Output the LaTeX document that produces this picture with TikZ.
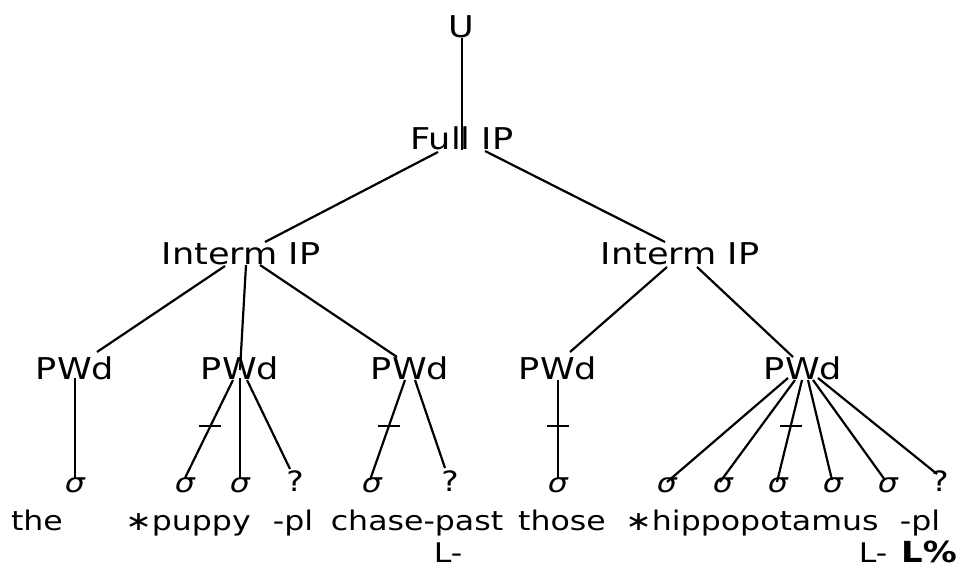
\documentclass[tikz,border=0pt]{standalone}
\usepackage{fontspec}
\setmainfont{DejaVu Sans}[FakeStretch=1.17]
\usetikzlibrary{calc}
\begin{document}
\begin{tikzpicture}[x=1pt,y=-1pt,
  cat/.style={inner sep=0pt, anchor=base, font=\fontsize{30}{36}\selectfont},
  syl/.style={inner sep=0pt, anchor=base, font=\fontsize{27}{32}\selectfont\itshape},
  unk/.style={inner sep=0pt, anchor=base, font=\fontsize{28}{32}\selectfont},
  word/.style={inner sep=0pt, anchor=base, font=\fontsize{27}{32}\selectfont},
  tone/.style={inner sep=0pt, anchor=base, font=\fontsize{29}{34}\selectfont\bfseries},
  branch/.style={line width=2.2pt},
  stem/.style={line width=1.5pt},
]
\useasboundingbox (0,0) rectangle (967,569);

% prosodic categories
\node[cat] (u)   at (461,38)  {U};
\node[cat] (fip) at (462,150) {Full IP};
\node[cat] (il)  at (241,265) {Interm IP};
\node[cat] (ir)  at (680,265) {Interm IP};
\node[cat] (pw1) at (75,380)  {PWd};
\node[cat] (pw2) at (240,380) {PWd};
\node[cat] (pw3) at (410,380) {PWd};
\node[cat] (pw4) at (558,380) {PWd};
\node[cat] (pw5) at (803,380) {PWd};

% syllables
\node[syl] (s1)  at (75,492)  {σ};
\node[syl] (s2)  at (185,492) {σ};
\node[syl] (s3)  at (240,492) {σ};
\node[unk] (q1)  at (295,491) {?};
\node[syl] (s4)  at (372,492) {σ};
\node[unk] (q2)  at (450,491) {?};
\node[syl] (s5)  at (558,492) {σ};
\node[syl] (s6)  at (667,492) {σ};
\node[syl] (s7)  at (723,492) {σ};
\node[syl] (s8)  at (778,492) {σ};
\node[syl] (s9)  at (833,492) {σ};
\node[syl] (s10) at (888,492) {σ};
\node[unk] (q3)  at (940,491) {?};

% words and tones
\node[word] (w1) at (37,530)  {the};
\node[word] (w2) at (188,530) {∗puppy};
\node[word] (w3) at (293,530) {-pl};
\node[word] (w4) at (417,530) {chase-past};
\node[word] (w5) at (562,530) {those};
\node[word] (w6) at (752,530) {∗hippopotamus};
\node[word] (w7) at (920,530) {-pl};
\node[word] (t1) at (448,562) {L-};
\node[word] (t2) at (873,562) {L-};
\node[tone] (t3) at (929,562) {L\%};

% upper branches
\draw[stem]   ($(u.base)+(1,0)$)     -- ($(fip.base)+(0,0)$);
\draw[branch] ($(fip.base)+(-24,2)$) -- ($(il.base)+(24,-23)$);
\draw[branch] ($(fip.base)+(23,1)$)  -- ($(ir.base)+(-15,-23)$);
\draw[branch] ($(il.base)+(-16,1)$)  -- ($(pw1.base)+(22,-28)$);
\draw[branch] ($(il.base)+(5,0)$)    -- ($(pw2.base)+(0,-10)$);
\draw[branch] ($(il.base)+(19,0)$)   -- ($(pw3.base)+(-13,-23)$);
\draw[branch] ($(ir.base)+(-13,2)$)  -- ($(pw4.base)+(12,-28)$);
\draw[branch] ($(ir.base)+(17,2)$)   -- ($(pw5.base)+(-10,-23)$);

% words to syllables
\draw[stem]   ($(pw1.base)+(0,-2)$)  -- ($(s1.base)+(0,-14)$);
\draw[branch] ($(pw2.base)+(-7,0)$)  -- coordinate[pos=0.47] (k1) ($(s2.base)+(0,-14)$);
\draw[stem]   ($(pw2.base)+(0,-2)$)  -- ($(s3.base)+(0,-14)$);
\draw[branch] ($(pw2.base)+(7,0)$)   -- ($(q1.base)+(-5,-22)$);
\draw[branch] ($(pw3.base)+(-5,0)$)  -- coordinate[pos=0.46] (k2) ($(s4.base)+(-2,-12)$);
\draw[branch] ($(pw3.base)+(5,0)$)   -- ($(q2.base)+(-5,-23)$);
\draw[stem]   ($(pw4.base)+(0,0)$)   -- coordinate[pos=0.47] (k3) ($(s5.base)+(0,-14)$);
\draw[branch] ($(pw5.base)+(-15,-2)$) -- ($(s6.base)+(0,-10)$);
\draw[branch] ($(pw5.base)+(-8,0)$)  -- ($(s7.base)+(-3,-10)$);
\draw[branch] ($(pw5.base)+(-1,0)$)  -- coordinate[pos=0.45] (k4) ($(s8.base)+(-1,-10)$);
\draw[branch] ($(pw5.base)+(5,0)$)   -- ($(s9.base)+(-1,-12)$);
\draw[branch] ($(pw5.base)+(10,0)$)  -- ($(s10.base)+(-3,-12)$);
\draw[branch] ($(pw5.base)+(15,-2)$) -- ($(q3.base)+(-3,-17)$);

% stress ticks
\foreach \k in {k1,k2,k3,k4}
  \draw[branch] ($(\k)+(-11,0)$) -- ($(\k)+(11,0)$);
\end{tikzpicture}
\end{document}
